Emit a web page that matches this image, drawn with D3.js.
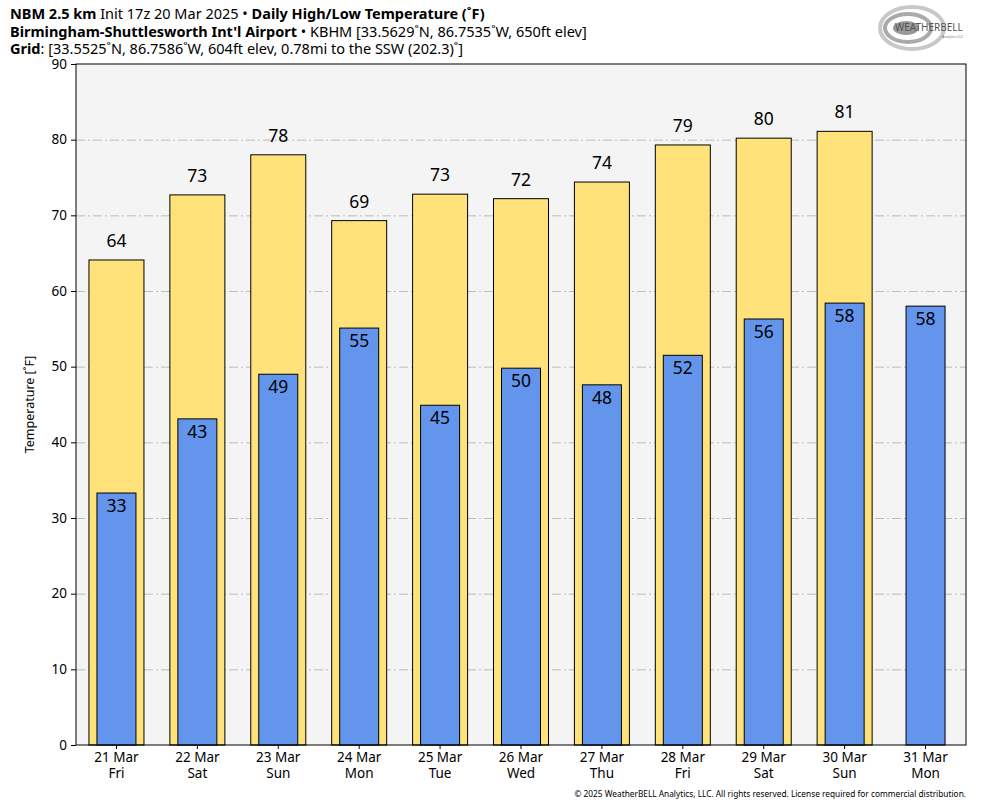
<!DOCTYPE html>
<html>
<head>
<meta charset="utf-8">
<style>
  body { margin: 0; background: #fff; }
  svg text { font-family: "Noto Sans", "Open Sans", sans-serif; }
</style>
</head>
<body>
<svg id="chart" width="984" height="808"></svg>
<script src="https://d3js.org/d3.v7.min.js"></script>
<script>

var dates = ["21 Mar", "22 Mar", "23 Mar", "24 Mar", "25 Mar", "26 Mar", "27 Mar", "28 Mar", "29 Mar", "30 Mar", "31 Mar"],
    weekdays = ["Fri", "Sat", "Sun", "Mon", "Tue", "Wed", "Thu", "Fri", "Sat", "Sun", "Mon"],
    highs = [64.1, 72.7, 78.0, 69.3, 72.8, 72.2, 74.4, 79.3, 80.2, 81.1, null],
    lows = [33.3, 43.1, 49.0, 55.1, 44.9, 49.8, 47.6, 51.5, 56.3, 58.4, 58.0],
    yTicks = [0, 10, 20, 30, 40, 50, 60, 70, 80, 90];

var svg = d3.select("#chart"),
    margin = {top: 64, right: 18, bottom: 63, left: 76},
    width = +svg.attr("width") - margin.left - margin.right,
    height = +svg.attr("height") - margin.top - margin.bottom,
    g = svg.append("g").attr("transform", "translate(" + margin.left + "," + margin.top + ")");

var x = d3.scaleBand()
    .domain(d3.range(dates.length))
    .range([0, width]);

var y = d3.scaleLinear()
    .domain([0, 90])
    .range([height, 0]);

var highWidth = 55, lowWidth = 39;

// header
var header = svg.append("g").attr("font-size", 14.5).attr("fill", "#000");

var h1 = header.append("text").attr("x", 10).attr("y", 19);
h1.append("tspan").attr("font-weight", "bold").text("NBM 2.5 km");
h1.append("tspan").text(" Init 17z 20 Mar 2025 • ");
h1.append("tspan").attr("font-weight", "bold").text("Daily High/Low Temperature (˚F)");

var h2 = header.append("text").attr("x", 10).attr("y", 36.5);
h2.append("tspan").attr("font-weight", "bold").text("Birmingham-Shuttlesworth Int'l Airport");
h2.append("tspan").text(" • KBHM [33.5629˚N, 86.7535˚W, 650ft elev]");

var h3 = header.append("text").attr("x", 10).attr("y", 54);
h3.append("tspan").attr("font-weight", "bold").text("Grid");
h3.append("tspan").text(": [33.5525˚N, 86.7586˚W, 604ft elev, 0.78mi to the SSW (202.3)˚]");

// logo
var logo = svg.append("g").attr("transform", "translate(912,28)");
logo.append("ellipse").attr("rx", 32).attr("ry", 21).attr("fill", "none").attr("stroke", "#c8c8c8").attr("stroke-width", 4);
logo.append("ellipse").attr("cx", -4).attr("rx", 23).attr("ry", 14).attr("fill", "none").attr("stroke", "#aaa").attr("stroke-width", 4);
logo.append("ellipse").attr("cx", -6).attr("rx", 13).attr("ry", 7).attr("fill", "#999");
logo.append("text").attr("x", -17).attr("y", 3).attr("font-size", 10).attr("font-family", "DejaVu Serif")
    .attr("fill", "#555").text("WEATHERBELL");
logo.append("text").attr("x", 30).attr("y", 10).attr("font-size", 3.5).attr("fill", "#777").text("Analytics LLC");

// plot background
g.append("rect")
    .attr("width", width)
    .attr("height", height)
    .attr("fill", "#f4f4f4");

// grid
g.append("g")
    .selectAll("line")
    .data(yTicks.slice(1, -1))
    .join("line")
      .attr("x1", 0)
      .attr("x2", width)
      .attr("y1", function(d) { return y(d) + 0.5; })
      .attr("y2", function(d) { return y(d) + 0.5; })
      .attr("stroke", "#bdbdbd")
      .attr("stroke-width", 1)
      .attr("stroke-dasharray", "9,3,2,3");

// high bars
g.append("g")
    .selectAll("rect")
    .data(highs.map(function(v, i) { return {i: i, v: v}; }).filter(function(d) { return d.v != null; }))
    .join("rect")
      .attr("x", function(d) { return x(d.i) + x.bandwidth() / 2 - highWidth / 2; })
      .attr("y", function(d) { return y(d.v); })
      .attr("width", highWidth)
      .attr("height", function(d) { return height - y(d.v); })
      .attr("fill", "#ffe37a")
      .attr("stroke", "#000")
      .attr("stroke-width", 1);

// low bars
g.append("g")
    .selectAll("rect")
    .data(lows)
    .join("rect")
      .attr("x", function(d, i) { return x(i) + x.bandwidth() / 2 - lowWidth / 2; })
      .attr("y", function(d) { return y(d); })
      .attr("width", lowWidth)
      .attr("height", function(d) { return height - y(d); })
      .attr("fill", "#6495ed")
      .attr("stroke", "#000")
      .attr("stroke-width", 1);

// value labels
g.append("g")
    .selectAll("text")
    .data(highs.map(function(v, i) { return {i: i, v: v}; }).filter(function(d) { return d.v != null; }))
    .join("text")
      .attr("x", function(d) { return x(d.i) + x.bandwidth() / 2; })
      .attr("y", function(d) { return y(d.v) - 13; })
      .attr("text-anchor", "middle")
      .attr("font-size", 17.5)
      .text(function(d) { return Math.round(d.v); });

g.append("g")
    .selectAll("text")
    .data(lows)
    .join("text")
      .attr("x", function(d, i) { return x(i) + x.bandwidth() / 2; })
      .attr("y", function(d) { return y(d) + 19; })
      .attr("text-anchor", "middle")
      .attr("font-size", 17.5)
      .text(function(d) { return Math.round(d); });

// axes
var yAxis = g.append("g")
    .call(d3.axisLeft(y).tickValues(yTicks).tickSize(5).tickPadding(4));
yAxis.select(".domain").remove();
yAxis.selectAll("text").attr("font-size", 13.5).attr("fill", "#000");

var xAxis = g.append("g")
    .attr("transform", "translate(0," + height + ")")
    .call(d3.axisBottom(x).tickSize(4).tickFormat(""));
xAxis.select(".domain").remove();
xAxis.selectAll(".tick").each(function(d) {
  var t = d3.select(this);
  t.append("text")
      .attr("fill", "#000")
      .attr("font-size", 13.5)
      .attr("text-anchor", "middle")
      .attr("y", 17)
      .text(dates[d]);
  t.append("text")
      .attr("fill", "#000")
      .attr("font-size", 13.5)
      .attr("text-anchor", "middle")
      .attr("y", 33)
      .text(weekdays[d]);
});

// frame
g.append("rect")
    .attr("width", width)
    .attr("height", height)
    .attr("fill", "none")
    .attr("stroke", "#000")
    .attr("stroke-width", 1);

g.append("text")
    .attr("transform", "rotate(-90)")
    .attr("x", -height / 2)
    .attr("y", -42)
    .attr("text-anchor", "middle")
    .attr("font-size", 12.5)
    .text("Temperature [˚F]");

svg.append("text")
    .attr("x", 966)
    .attr("y", 797)
    .attr("text-anchor", "end")
    .attr("font-size", 8.3)
    .text("© 2025 WeatherBELL Analytics, LLC. All rights reserved. License required for commercial distribution.");

</script>
</body>
</html>
